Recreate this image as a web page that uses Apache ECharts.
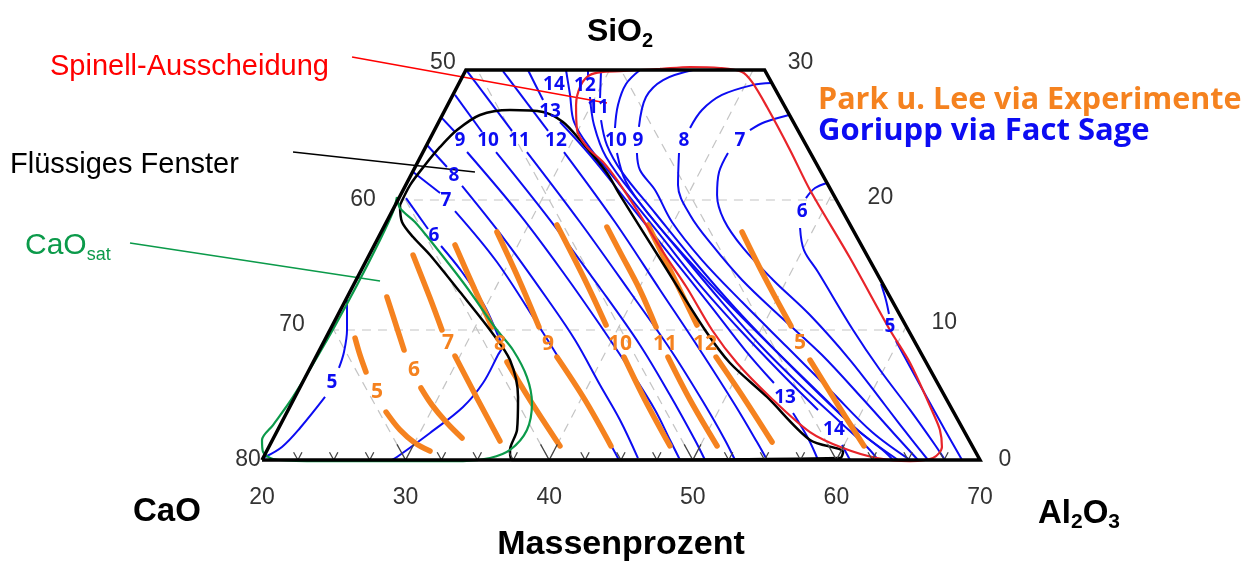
<!DOCTYPE html>
<html><head><meta charset="utf-8">
<script src="https://cdn.jsdelivr.net/npm/echarts@6/dist/echarts.min.js"></script>
<style>html,body{margin:0;padding:0;background:#fff}#c{width:1257px;height:565px}</style>
</head><body><div id="c"></div>
<script>
// ---------- DATA (x = Massenprozent along the base, y = SiO2 %) ----------
const frame = [[20,0],[34.2,30],[55,30],[70,0],[20,0]];
const bottomTicks = [20,30,40,50,60,70];
const leftTicks = [50,60,70,80];      // CaO
const rightTicks = [30,20,10,0];      // SiO2
const gridCaO = [40,50,60,70];
const gridAl = [30,40,50,60];
const gridSi = [10,20];
const vTicks = [22.5,25,27.5,30,32.5,35,37.5,40,42.5,45,47.5,50,52.5,55,57.5,60,62.5,65,67.5];

// Goriupp (FactSage) iso-lines; null = gap for the label
const blue5L = [[25.92,12.31],[25.92,10.0],[25.71,8.31],[25.36,7.08],null,[24.39,4.85],[22.65,2.46],[21.39,1.0],[20.21,0.23]];
const blue6 = [[30.03,20.15],[31.56,17.77],null,[32.47,16.46],[33.93,14.46],[35.46,11.92],[36.36,9.77],[36.71,8.69],[36.43,8.08],[35.39,5.92],[34.0,4.08],[31.70,2.08],[29.40,0.23],[29.05,0]];
const blue7 = [[30.52,22.15],[32.40,20.54],null,[33.44,19.15],[36.36,15.23],[39.36,10.15],[40.54,8.08],[42.49,4.62],[44.37,1.0],[44.86,0]];
const blue8 = [[31.49,24.23],[32.88,22.54],null,[33.93,21.08],[36.92,16.92],[39.92,12.31],[41.80,9.23],[43.54,5.77],[44.93,3.08],[46.18,0.15]];
const blue9 = [[32.47,26.38],[33.44,25.23],null,[34.28,23.69],[37.97,18.85],[41.10,14.23],[43.54,10.38],[45.63,6.92],[47.37,3.85],[48.41,1.54],[49.11,0]];
const blue10 = [[33.44,28.08],[35.32,25.23],null,[36.30,23.69],[40.06,18.46],[43.54,13.23],[46.32,8.85],[48.41,5.0],[50.15,1.54],[50.85,0]];
const blue11 = [[34.28,29.92],[37.41,25.31],null,[38.45,23.69],[42.14,18.31],[45.63,12.92],[48.55,8.31],[50.85,4.23],[52.24,1.54],[52.94,0]];
const blue12 = [[36.78,29.92],[39.92,25.31],null,[41.03,23.69],[44.58,18.31],[47.72,13.08],[50.50,8.46],[52.94,4.23],[54.47,1.38],[55.17,0]];
const blue13 = [[38.52,30.0],[39.57,27.69],null,[40.75,26.0],[42.84,23.46],[45.63,19.62],[48.41,15.77],[51.20,11.92],[53.64,8.46],[55.65,5.92],null,[56.98,3.62],[58.02,1.69],[58.72,0]];
const blue14 = [[41.17,30.0],[41.45,28.08],[41.73,26.0],[42.84,24.0],[44.93,21.15],[47.72,17.31],[50.50,13.46],[53.29,10.0],[56.07,6.77],[58.72,3.85],null,[60.39,1.15],[60.95,0]];
const blue12R = [[42.70,30.0],[42.70,29.54],null,[42.84,27.92],[43.12,25.77],[43.96,23.31],[46.32,19.77],[49.11,16.0],[51.90,12.31],[54.68,8.85],[57.47,5.77],[60.25,2.92],[62.20,0.92],[62.90,0]];
const blue11R = [[43.61,30.0],[43.54,27.85],null,[43.61,26.15],[44.02,24.23],[45.07,22.15],[47.37,19.0],[50.15,15.23],[52.94,11.69],[55.72,8.46],[58.51,5.38],[61.30,2.46],[63.38,0.62],[63.94,0]];
const blue10R = [[46.32,30.0],[45.35,28.92],[44.79,27.31],[44.58,25.54],null,[44.72,23.62],[45.35,21.38],[47.02,18.77],[49.81,15.23],[52.59,11.92],[55.72,8.46],[58.86,5.08],[61.64,2.15],[64.29,0]];
const blue9R = [[50.01,30.0],[47.93,29.23],[46.74,27.92],[46.25,25.62],null,[46.11,23.62],[46.32,22.31],[47.37,20.77],[48.55,18.31],[50.64,15.38],[53.43,12.15],[56.56,8.69],[59.69,5.23],[62.48,2.15],[65.13,0]];
const blue8R = [[55.45,29.0],[54.19,28.85],[52.03,28.08],[50.64,26.92],[49.81,25.54],null,[49.04,23.62],[48.97,21.15],[49.81,18.85],[51.34,16.54],[53.43,13.85],[56.21,10.92],[59.0,8.08],[61.78,4.77],[64.22,1.77],[65.68,0]];
const blue7R = [[56.70,26.54],[55.03,26.0],[53.98,25.38],null,[52.45,23.62],[51.83,22.15],[51.69,20.38],[52.17,18.46],[53.50,16.31],[55.59,13.85],[58.16,11.15],[60.95,7.69],[63.38,4.23],[65.26,1.54],[66.38,0]];
const blue6R = [[59.35,21.31],[58.51,20.92],[57.88,20.15],null,[57.47,17.85],[57.74,16.15],[58.72,14.46],[61.16,10.0],[63.04,6.92],[65.13,3.85],[66.87,1.15],[67.56,0]];
const blue5R = [[63.11,13.54],[63.45,12.31],[63.66,11.23],null,[64.15,9.15],[65.82,5.77],[67.56,2.31],[68.75,0]];
const blueLines = [blue5L,blue6,blue7,blue8,blue9,blue10,blue11,blue12,blue13,blue14,blue12R,blue11R,blue10R,blue9R,blue8R,blue7R,blue6R,blue5R];
const blueLabels = [['5',24.87,5.92],['6',31.98,17.23],['7',32.81,19.92],['8',33.37,21.85],['9',33.79,24.54],['10',35.74,24.54],['11',37.90,24.54],['12',40.47,24.54],['13',40.06,26.77],['14',40.33,28.85],['12',42.49,28.77],['11',43.40,27.08],['10',44.65,24.54],['9',46.18,24.54],['8',49.39,24.54],['7',53.29,24.54],['6',57.61,19.08],['5',63.73,10.23],['13',56.42,4.77],['14',59.83,2.31]];

// Park u. Lee (experiments)
const orange5 = [[26.48,9.38],[26.82,8.08],[27.24,6.77],null,[28.64,3.69],[29.61,2.31],[30.65,1.31],[31.70,0.69]];
const orange6 = [[28.70,12.54],[29.40,10.15],[29.89,8.46],null,[31.07,5.54],[31.84,4.23],[32.88,2.85],[33.93,1.69]];
const orange7 = [[30.52,15.77],[31.70,12.46],[32.53,10.0],null,[33.44,8.0],[35.04,4.62],[36.57,1.46]];
const orange8 = [[33.44,16.54],[34.83,13.08],[36.02,10.23],null,[37.06,7.54],[38.66,4.62],[40.75,1.08]];
const orange9 = [[36.36,17.54],[37.97,13.69],[39.29,10.23],null,[40.54,7.92],[42.49,4.62],[44.30,1.08]];
const orange10 = [[40.54,18.08],[42.49,13.85],[43.96,10.38],null,[45.21,7.92],[46.67,4.62],[48.41,1.08]];
const orange11 = [[44.02,17.92],[44.93,16.0],[46.32,13.08],[47.44,10.23],null,[48.27,7.92],[49.81,4.62],[51.69,1.08]];
const orange12 = [[46.88,18.08],[48.76,13.85],[50.29,10.38],null,[51.62,7.92],[53.64,4.62],[55.52,1.38]];
const orange5R = [[53.43,17.54],[55.03,14.0],[56.84,10.31],null,[58.16,7.69],[60.11,4.23],[61.92,1.08]];
const orangeLines = [orange5,orange6,orange7,orange8,orange9,orange10,orange11,orange12,orange5R];
const orangeLabels = [['5',28.01,5.23],['6',30.59,6.92],['7',32.95,9.0],['8',36.57,8.92],['9',39.92,8.92],['10',44.93,8.92],['11',48.06,8.92],['12',50.85,8.92],['5',57.47,9.0]];

// region outlines
const blackOutline = [[29.61,19.62],[29.75,18.31],[30.52,17.15],[31.70,15.77],[33.79,12.92],[35.88,10.0],[37.27,7.69],[37.83,4.85],[37.76,2.31],[37.27,0.77],[37.41,0],[60.25,0.15],[60.46,0.62],[58.16,1.54],[55.17,4.85],[52.59,7.46],[50.85,10.0],[47.86,15.23],[44.93,20.38],[44.02,22.08],[42.14,24.62],[40.96,26.0],[39.57,26.77],[37.27,26.92],[35.18,26.54],[33.58,25.38],[32.40,24.08],[31.35,22.69],[30.31,21.15],[29.61,19.62]];
const redOutline = [[44.93,29.92],[43.75,29.85],[42.84,29.62],[42.21,28.85],[41.87,27.31],[41.94,25.38],[42.63,24.08],[43.75,22.92],[44.72,21.54],[46.32,18.85],[47.93,16.0],[49.60,13.23],[51.34,10.0],[53.08,7.46],[55.38,4.85],[58.16,2.15],[60.46,0.92],[62.83,0.15],[65.13,-0.08],[66.73,0.15],[67.35,1.0],[67.21,2.31],[66.73,3.62],[65.13,7.46],[63.73,10.0],[60.95,15.54],[58.16,20.77],[56.77,23.85],[55.17,27.15],[54.12,29.08],[53.43,29.85],[51.90,30.15],[49.81,30.23],[47.72,30.08],[46.32,30.0],[44.93,29.92]];
const greenOutline = [[29.40,20.23],[29.61,19.38],[30.65,18.31],[31.70,16.92],[34.14,13.46],[36.36,10.0],[37.48,8.46],[38.45,6.38],[38.80,4.38],[38.45,2.31],[37.27,0.77],[35.88,0.15],[34.0,-0.08],[31.70,-0.08],[27.52,-0.08],[23.13,-0.08],[20.77,0.08],[20.07,0.62],[20.0,1.54],[20.77,2.69],[22.16,4.85],[24.53,9.23],[26.62,13.46],[28.22,16.92],[29.12,19.08],[29.40,20.23]];

// annotation leader lines [x1, y1, x2, y2]
const redLeader = [26.27,31.0,44.02,27.46];
const blackLeader = [22.16,23.69,34.83,22.15];
const greenLeader = [10.81,16.69,28.22,13.77];

// ---------- STYLE ----------
const C_BLUE = '#0c0cf2', C_ORANGE = '#f5821f', C_RED = '#e8242a', C_GREEN = '#0b9a4a', C_GRID = '#c4c4c4';
const leftLabelOffsets = [[-23,-7],[-35,0],[-38,-5],[-14,0]];
const rightLabelOffsets = [[36,-7],[44,-2],[36,-7],[25,0]];

// frame geometry (edges of the trapezoid)
const kL = (frame[1][0]-frame[0][0])/frame[1][1];
const kR = (frame[3][0]-frame[2][0])/frame[2][1];
const LE = y => frame[0][0] + kL*y;
const RE = y => frame[3][0] - kR*y;

const series = [];
function splitNull(arr){ const parts=[[]]; arr.forEach(p=>{ if(p===null) parts.push([]); else parts[parts.length-1].push(p); }); return parts.filter(p=>p.length); }
function addLine(pts, lineStyle, z, smooth){
  series.push({type:'line', data:pts, symbol:'none', smooth:smooth||0, clip:false, silent:true, z:z, lineStyle:lineStyle, animation:false});
}
function addSegment(seg, color, width, z){
  series.push({type:'custom', z:z, silent:true, clip:false, animation:false, data:[seg],
    renderItem:(params, api) => {
      const a = api.coord([api.value(0), api.value(1)]), b = api.coord([api.value(2), api.value(3)]);
      return {type:'line', shape:{x1:a[0], y1:a[1], x2:b[0], y2:b[1]}, style:{stroke:color, lineWidth:width}};
    }});
}
// text marks drawn with custom series (crisp, no inside-label styling)
function addTexts(items, color, size, weight, family, offsets, z){
  series.push({type:'custom', z:z, silent:true, clip:false, animation:false,
    data: items.map(it => [it[1], it[2]]),
    renderItem:(params, api) => {
      const p = api.coord([api.value(0), api.value(1)]);
      const off = offsets ? offsets[params.dataIndex] : [0,0];
      return {type:'text', x:p[0]+off[0], y:p[1]+off[1],
        style:{text:items[params.dataIndex][0], fill:color, fontSize:size, fontWeight:weight, fontFamily:family, align:'center', verticalAlign:'middle'}};
    }});
}
// grid
const gStyle = {color:C_GRID, width:1.2, type:[9,7]};
gridSi.forEach(s => addLine([[LE(s),s],[RE(s),s]], gStyle, 1));
gridCaO.forEach(c => { const x0=100-c; const ye=Math.min(30,(x0-20)/(kL+kR)); addLine([[x0,0],[x0-kR*ye,ye]], gStyle, 1); });
gridAl.forEach(a => { const ye=Math.min(30,(70-a)/(kL+kR)); addLine([[a,0],[a+kL*ye,ye]], gStyle, 1); });
// blue
blueLines.forEach(l => splitNull(l).forEach(p => addLine(p, {color:C_BLUE, width:2}, 2, 0.35)));
// orange
orangeLines.forEach(l => splitNull(l).forEach(p => addLine(p, {color:C_ORANGE, width:5.5, cap:'round'}, 3, 0.35)));
// outlines
addLine(blackOutline, {color:'#000', width:2.5}, 4, 0.3);
addLine(redOutline, {color:C_RED, width:2.2}, 4, 0.3);
addLine(greenOutline, {color:C_GREEN, width:2.2}, 4, 0.3);
addSegment(redLeader, '#ff0000', 1.6, 4);
addSegment(blackLeader, '#000', 1.6, 4);
addSegment(greenLeader, C_GREEN, 1.6, 4);
// frame
addLine(frame, {color:'#000', width:3.5, join:'miter'}, 6);
// V ticks along the base
series.push({type:'custom', z:6, silent:true, clip:false, animation:false,
  data: vTicks.map(t => [t]),
  renderItem: (params, api) => {
    const t = api.value(0); const h = (t % 10 === 0) ? 1.2 : 0.6;
    const p0 = api.coord([t,0]), pl = api.coord([t-kR*h,h]), pr = api.coord([t+kL*h,h]);
    return {type:'polyline', shape:{points:[pl,p0,pr]}, style:{stroke:'#454545', lineWidth:1.3, fill:null}};
  }});
// labels
addTexts(blueLabels, C_BLUE, 19, 'bold', 'Open Sans', null, 7);
addTexts(orangeLabels, C_ORANGE, 21, 'bold', 'Open Sans', null, 7);
addTexts(leftTicks.map(v => [String(v), LE(80-v), 80-v]), '#333', 23, 'normal', 'Liberation Sans', leftLabelOffsets, 7);
addTexts(rightTicks.map(v => [String(v), RE(v), v]), '#333', 23, 'normal', 'Liberation Sans', rightLabelOffsets, 7);

const chart = echarts.init(document.getElementById('c'));
chart.setOption({
  animation:false,
  backgroundColor:'#fff',
  grid:{left:262, right:277, top:70, bottom:105},
  xAxis:{type:'value', min:bottomTicks[0], max:bottomTicks[bottomTicks.length-1], interval:10,
    axisLine:{show:false}, axisTick:{show:false}, splitLine:{show:false},
    axisLabel:{show:true, margin:26, fontSize:23, color:'#333', fontFamily:'Liberation Sans'}},
  yAxis:{type:'value', min:0, max:30, show:false, splitLine:{show:false}},
  graphic:[
    {type:'text', x:50, y:67, style:{text:'Spinell-Ausscheidung', fill:'#ff0000', fontSize:29, fontFamily:'Liberation Sans', align:'left', verticalAlign:'middle'}},
    {type:'text', x:10, y:165, style:{text:'Flüssiges Fenster', fill:'#000', fontSize:29, fontFamily:'Liberation Sans', align:'left', verticalAlign:'middle'}},
    {type:'text', x:25, y:246, style:{text:'{a|CaO}{b|sat}', fill:C_GREEN, fontFamily:'Liberation Sans', align:'left', verticalAlign:'middle',
      rich:{a:{fontSize:30, lineHeight:36, fill:C_GREEN, fontFamily:'Liberation Sans'}, b:{fontSize:18, lineHeight:18, verticalAlign:'bottom', fill:C_GREEN, fontFamily:'Liberation Sans'}}}},
    {type:'text', x:620, y:32, style:{text:'{a|SiO}{b|2}', fill:'#000', align:'center', verticalAlign:'middle',
      rich:{a:{fontSize:32, lineHeight:38, fontWeight:'bold', fill:'#000', fontFamily:'Liberation Sans'}, b:{fontSize:20, lineHeight:20, verticalAlign:'bottom', fontWeight:'bold', fill:'#000', fontFamily:'Liberation Sans'}}}},
    {type:'text', x:133, y:512, style:{text:'CaO', fill:'#000', fontSize:33, fontWeight:'bold', fontFamily:'Liberation Sans', align:'left', verticalAlign:'middle'}},
    {type:'text', x:1038, y:514, style:{text:'{a|Al}{b|2}{a|O}{b|3}', fill:'#000', align:'left', verticalAlign:'middle',
      rich:{a:{fontSize:33, lineHeight:38, fontWeight:'bold', fill:'#000', fontFamily:'Liberation Sans'}, b:{fontSize:21, lineHeight:21, verticalAlign:'bottom', fontWeight:'bold', fill:'#000', fontFamily:'Liberation Sans'}}}},
    {type:'text', x:621, y:545, style:{text:'Massenprozent', fill:'#000', fontSize:34, fontWeight:'bold', fontFamily:'Liberation Sans', align:'center', verticalAlign:'middle'}},
    {type:'text', x:818, y:100, style:{text:'Park u. Lee via Experimente', fill:C_ORANGE, fontSize:30.5, fontWeight:'bold', fontFamily:'Open Sans', align:'left', verticalAlign:'middle'}},
    {type:'text', x:818, y:131, style:{text:'Goriupp via Fact Sage', fill:C_BLUE, fontSize:31, fontWeight:'bold', fontFamily:'Open Sans', align:'left', verticalAlign:'middle'}}
  ],
  series: series
});
</script></body></html>
